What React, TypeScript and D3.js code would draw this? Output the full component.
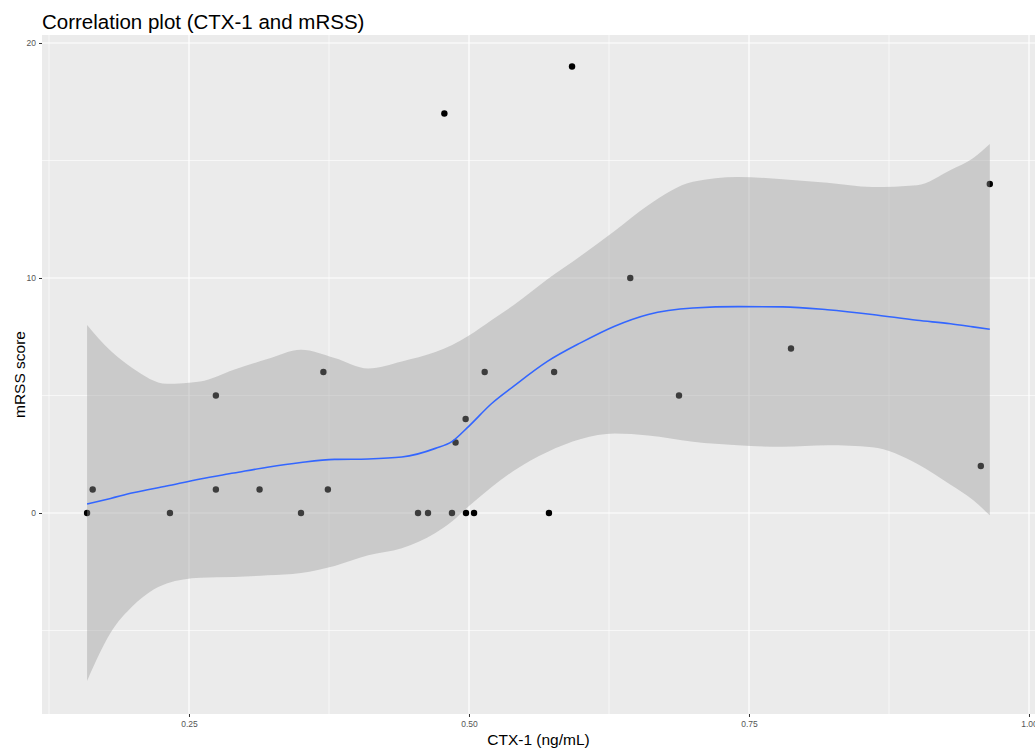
import React, { useEffect, useRef } from "react";
import * as d3 from "d3";

// observations: CTX-1 (ng/mL) vs mRSS score
const ctx1 = [
  0.159, 0.164, 0.233, 0.274, 0.274, 0.313, 0.35, 0.37, 0.374,
  0.4545, 0.4634, 0.4848, 0.4973, 0.5045, 0.5714, 0.514, 0.576,
  0.497, 0.488, 0.478, 0.592, 0.644, 0.6875, 0.7875, 0.957, 0.965,
];
const mrss = [
  0, 1, 0, 5, 1, 1, 0, 6, 1,
  0, 0, 0, 0, 0, 0, 6, 6,
  4, 3, 17, 19, 10, 5, 7, 2, 14,
];

// loess fit with its confidence band
const smoothX = [
  0.159, 0.18, 0.2, 0.23, 0.26, 0.29, 0.32, 0.35, 0.38, 0.41, 0.44, 0.47, 0.485,
  0.5, 0.52, 0.54, 0.57, 0.6, 0.63, 0.66, 0.7, 0.74, 0.78, 0.82, 0.86, 0.9, 0.93,
  0.95, 0.965,
];
const smoothFit = [
  0.38, 0.62, 0.86, 1.15, 1.45, 1.7, 1.95, 2.15, 2.28, 2.3, 2.38, 2.75, 3.05,
  3.7, 4.65, 5.4, 6.45, 7.25, 7.95, 8.45, 8.72, 8.78, 8.77, 8.65, 8.45, 8.2, 8.05,
  7.92, 7.82,
];
const smoothLower = [
  -7.15, -5.1, -3.95, -3.0, -2.75, -2.72, -2.65, -2.55, -2.25, -1.8, -1.5, -0.85, -0.35,
  0.3, 1.1, 1.8, 2.6, 3.15, 3.38, 3.3, 3.03, 2.88, 2.82, 2.88, 2.8, 2.1, 1.2,
  0.55, -0.1,
];
const smoothUpper = [
  8.0, 6.9, 6.15, 5.5, 5.6, 6.1, 6.55, 6.95, 6.6, 6.15, 6.45, 6.85, 7.15,
  7.55, 8.2, 8.85, 9.95, 10.95, 12.0, 13.1, 14.1, 14.3, 14.2, 14.05, 13.87, 13.95, 14.6,
  15.1, 15.7,
];

const xBreaks = [0.25, 0.5, 0.75, 1.0];
const xBreakLabels = ["0.25", "0.50", "0.75", "1.00"];
const xMinorBreaks = [0.125, 0.375, 0.625, 0.875];
const yBreaks = [0, 10, 20];
const yBreakLabels = ["0", "10", "20"];
const yMinorBreaks = [-5, 5, 15];

const WIDTH = 1035;
const HEIGHT = 751;
const panel = { left: 42, top: 35, right: 1035, bottom: 714 };
const FONT = "'Liberation Sans', Arial, sans-serif";

export default function App() {
  const ref = useRef<SVGSVGElement>(null);

  useEffect(() => {
    const svg = d3.select(ref.current);
    svg.selectAll("*").remove();

    const x = d3.scaleLinear().domain([0.11875, 1.00536]).range([panel.left, panel.right]);
    const y = d3.scaleLinear().domain([-8.553, 20.34]).range([panel.bottom, panel.top]);

    svg.append("rect")
      .attr("x", 0).attr("y", 0).attr("width", WIDTH).attr("height", HEIGHT)
      .attr("fill", "white");

    // panel background
    svg.append("rect")
      .attr("x", panel.left).attr("y", panel.top)
      .attr("width", panel.right - panel.left)
      .attr("height", panel.bottom - panel.top)
      .attr("fill", "#EBEBEB");

    const grid = svg.append("g");
    grid.selectAll("line.xminor").data(xMinorBreaks).enter().append("line")
      .attr("x1", (d) => x(d)).attr("x2", (d) => x(d))
      .attr("y1", panel.top).attr("y2", panel.bottom)
      .attr("stroke", "white").attr("stroke-width", 0.6);
    grid.selectAll("line.yminor").data(yMinorBreaks).enter().append("line")
      .attr("y1", (d) => y(d)).attr("y2", (d) => y(d))
      .attr("x1", panel.left).attr("x2", panel.right)
      .attr("stroke", "white").attr("stroke-width", 0.6);
    grid.selectAll("line.xmajor").data(xBreaks).enter().append("line")
      .attr("x1", (d) => x(d)).attr("x2", (d) => x(d))
      .attr("y1", panel.top).attr("y2", panel.bottom)
      .attr("stroke", "white").attr("stroke-width", 1.2);
    grid.selectAll("line.ymajor").data(yBreaks).enter().append("line")
      .attr("y1", (d) => y(d)).attr("y2", (d) => y(d))
      .attr("x1", panel.left).attr("x2", panel.right)
      .attr("stroke", "white").attr("stroke-width", 1.2);

    // points go under the ribbon, like ggplot's layer order here
    svg.append("g").selectAll("circle")
      .data(ctx1.map((c, i) => [c, mrss[i]]))
      .enter().append("circle")
      .attr("cx", (d) => x(d[0]))
      .attr("cy", (d) => y(d[1]))
      .attr("r", 3.2)
      .attr("fill", "black");

    const band = smoothX.map((sx, i) => ({
      x: sx, fit: smoothFit[i], lo: smoothLower[i], hi: smoothUpper[i],
    }));

    const area = d3.area<any>()
      .x((d) => x(d.x))
      .y0((d) => y(d.lo))
      .y1((d) => y(d.hi))
      .curve(d3.curveMonotoneX);
    svg.append("path")
      .datum(band)
      .attr("d", area)
      .attr("fill", "#999999")
      .attr("fill-opacity", 0.4);

    const line = d3.line<any>()
      .x((d) => x(d.x))
      .y((d) => y(d.fit))
      .curve(d3.curveMonotoneX);
    svg.append("path")
      .datum(band)
      .attr("d", line)
      .attr("fill", "none")
      .attr("stroke", "#3366FF")
      .attr("stroke-width", 1.6);

    // axes
    const xAxis = svg.append("g")
      .attr("transform", `translate(0,${panel.bottom})`)
      .call(
        d3.axisBottom(x)
          .tickValues(xBreaks)
          .tickFormat((d, i) => xBreakLabels[i])
          .tickSize(3)
          .tickPadding(4)
      );
    xAxis.select(".domain").remove();
    xAxis.selectAll("line").attr("stroke", "#333333");
    xAxis.selectAll("text")
      .attr("fill", "#555555")
      .attr("font-size", 8.5)
      .attr("font-family", FONT);

    const yAxis = svg.append("g")
      .attr("transform", `translate(${panel.left},0)`)
      .call(
        d3.axisLeft(y)
          .tickValues(yBreaks)
          .tickFormat((d, i) => yBreakLabels[i])
          .tickSize(3)
          .tickPadding(3)
      );
    yAxis.select(".domain").remove();
    yAxis.selectAll("line").attr("stroke", "#333333");
    yAxis.selectAll("text")
      .attr("fill", "#555555")
      .attr("font-size", 8.5)
      .attr("font-family", FONT);

    // titles
    svg.append("text")
      .attr("x", 42).attr("y", 29)
      .attr("font-size", 20.5)
      .attr("font-family", FONT)
      .attr("fill", "black")
      .text("Correlation plot (CTX-1 and mRSS)");

    svg.append("text")
      .attr("x", (panel.left + panel.right) / 2)
      .attr("y", 745)
      .attr("text-anchor", "middle")
      .attr("font-size", 15.5)
      .attr("font-family", FONT)
      .attr("fill", "black")
      .text("CTX-1 (ng/mL)");

    svg.append("text")
      .attr("transform", `translate(25,${(panel.top + panel.bottom) / 2}) rotate(-90)`)
      .attr("text-anchor", "middle")
      .attr("font-size", 15.5)
      .attr("font-family", FONT)
      .attr("fill", "black")
      .text("mRSS score");
  }, []);

  return (
    <svg
      ref={ref}
      width={WIDTH}
      height={HEIGHT}
      style={{ position: "absolute", left: 0, top: 0 }}
    />
  );
}
